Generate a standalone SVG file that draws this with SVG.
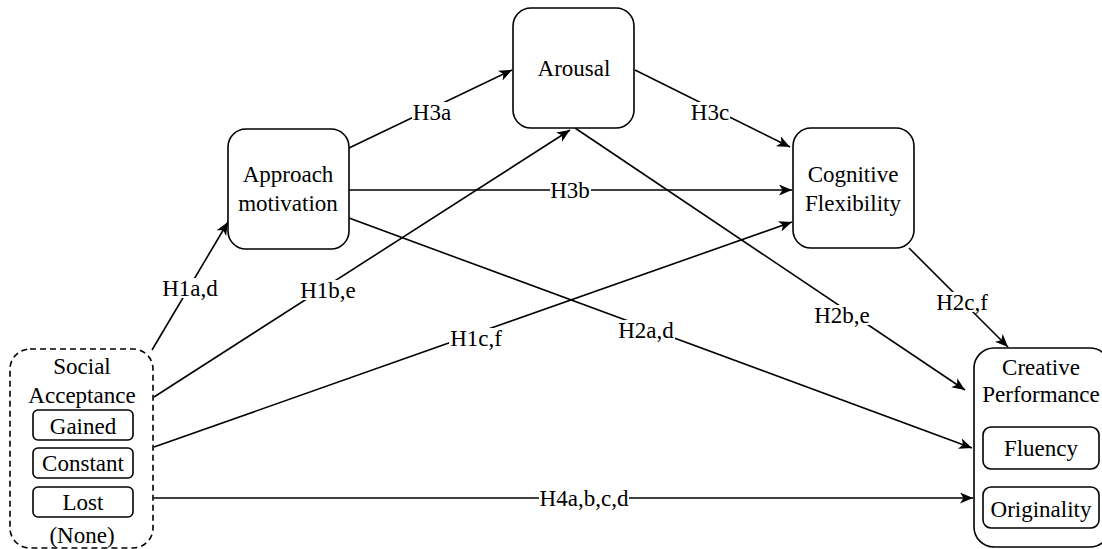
<svg xmlns="http://www.w3.org/2000/svg" width="1102" height="549" viewBox="0 0 1102 549">
<style>
.t{font-family:'Liberation Serif','Times New Roman','DejaVu Serif',serif;font-size:23px;fill:#000;text-anchor:middle}
.box{fill:#fff;stroke:#000;stroke-width:1.6}
.dash{fill:#fff;stroke:#000;stroke-width:1.6;stroke-dasharray:6 4}
.e{fill:none;stroke:#000;stroke-width:1.6}
.bg{fill:#fff}
</style>
<defs>
<marker id="arr" markerUnits="userSpaceOnUse" markerWidth="16" markerHeight="14" refX="13" refY="5.5" orient="auto">
<path d="M0,0 L13,5.5 L0,11 L3.5,5.5 Z" fill="#000"/>
</marker>
</defs>
<rect width="1102" height="549" fill="#fff"/>
<g id="connectors">
<line class="e" x1="152" y1="350" x2="228" y2="222" marker-end="url(#arr)"/>
<line class="e" x1="154" y1="397" x2="570" y2="130" marker-end="url(#arr)"/>
<line class="e" x1="154" y1="447" x2="792" y2="222" marker-end="url(#arr)"/>
<line class="e" x1="154" y1="498" x2="973" y2="498" marker-end="url(#arr)"/>
<line class="e" x1="349" y1="148" x2="512" y2="70" marker-end="url(#arr)"/>
<line class="e" x1="349" y1="190" x2="792" y2="190" marker-end="url(#arr)"/>
<line class="e" x1="635" y1="70" x2="790" y2="147" marker-end="url(#arr)"/>
<line class="e" x1="349" y1="218" x2="972" y2="448" marker-end="url(#arr)"/>
<line class="e" x1="575" y1="128" x2="965" y2="390" marker-end="url(#arr)"/>
<line class="e" x1="909" y1="248" x2="1008" y2="347" marker-end="url(#arr)"/>
<rect class="bg" x="161" y="278" width="58" height="20"/>
<text class="t" x="190" y="296">H1a,d</text>
<rect class="bg" x="299" y="280" width="58" height="20"/>
<text class="t" x="328" y="298">H1b,e</text>
<rect class="bg" x="449" y="328" width="54" height="20"/>
<text class="t" x="476" y="346">H1c,f</text>
<rect class="bg" x="539" y="488" width="90" height="20"/>
<text class="t" x="584" y="506">H4a,b,c,d</text>
<rect class="bg" x="412" y="102" width="40" height="20"/>
<text class="t" x="432" y="120">H3a</text>
<rect class="bg" x="550" y="180" width="41" height="20"/>
<text class="t" x="570" y="198">H3b</text>
<rect class="bg" x="690" y="102" width="40" height="20"/>
<text class="t" x="710" y="120">H3c</text>
<rect class="bg" x="617" y="320" width="58" height="20"/>
<text class="t" x="646" y="338">H2a,d</text>
<rect class="bg" x="813" y="305" width="58" height="20"/>
<text class="t" x="842" y="323">H2b,e</text>
<rect class="bg" x="936" y="292" width="54" height="20"/>
<text class="t" x="962" y="310">H2c,f</text>
</g>
<g id="social-acceptance">
<rect class="dash" x="10" y="349" width="143" height="199" rx="20"/>
<text class="t" x="82" y="374">Social</text>
<text class="t" x="82" y="403">Acceptance</text>
<g id="gained"><rect class="box" x="33" y="410" width="100" height="30" rx="5"/><text class="t" x="83" y="434">Gained</text></g>
<g id="constant"><rect class="box" x="33" y="448" width="100" height="30" rx="5"/><text class="t" x="83" y="471">Constant</text></g>
<g id="lost"><rect class="box" x="33" y="487" width="100" height="30" rx="5"/><text class="t" x="83" y="510">Lost</text></g>
<text class="t" x="82" y="543">(None)</text>
</g>
<g id="approach-motivation">
<rect class="box" x="228" y="129" width="121" height="120" rx="18"/>
<text class="t" x="288" y="182">Approach</text>
<text class="t" x="288" y="211">motivation</text>
</g>
<g id="arousal">
<rect class="box" x="513" y="8" width="121" height="120" rx="18"/>
<text class="t" x="574" y="76">Arousal</text>
</g>
<g id="cognitive-flexibility">
<rect class="box" x="793" y="128" width="121" height="120" rx="18"/>
<text class="t" x="853" y="182">Cognitive</text>
<text class="t" x="853" y="211">Flexibility</text>
</g>
<g id="creative-performance">
<rect class="box" x="974" y="348" width="136" height="199" rx="20"/>
<text class="t" x="1041" y="375">Creative</text>
<text class="t" x="1041" y="402">Performance</text>
<g id="fluency"><rect class="box" x="983" y="427" width="116" height="42" rx="8"/><text class="t" x="1041" y="456">Fluency</text></g>
<g id="originality"><rect class="box" x="983" y="487" width="116" height="41" rx="8"/><text class="t" x="1041" y="517">Originality</text></g>
</g>
</svg>
